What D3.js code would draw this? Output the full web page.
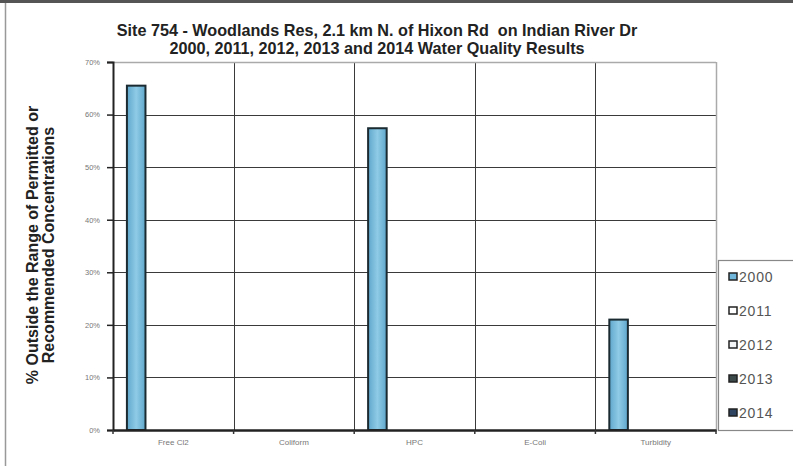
<!DOCTYPE html>
<html><head><meta charset="utf-8">
<script src="https://cdn.jsdelivr.net/npm/d3@7"></script>
<style>body{margin:0;background:#fff}svg{display:block}</style>
</head><body>
<svg id="c" width="793" height="466"></svg>
<script>
const categories = ["Free Cl2", "Coliform", "HPC", "E-Coli", "Turbidity"];
const seriesNames = ["2000", "2011", "2012", "2013", "2014"];
const values2000 = [65.5, 0, 57.4, 0, 21.0];
const values2011 = [0, 0, 0, 0, 0];
const values2012 = [0, 0, 0, 0, 0];
const values2013 = [0, 0, 0, 0, 0];
const values2014 = [0, 0, 0, 0, 0];
const yTicks = [0, 10, 20, 30, 40, 50, 60, 70];
const titleLines = ["Site 754 - Woodlands Res, 2.1 km N. of Hixon Rd  on Indian River Dr",
                    "2000, 2011, 2012, 2013 and 2014 Water Quality Results"];
const yTitleLines = ["% Outside the Range of Permitted or", "Recommended Concentrations"];
const seriesColors = ["#6fb6da", "#ffffff", "#f4f4f4", "#3d4a4a", "#2e4460"];

const series = [values2000, values2011, values2012, values2013, values2014];
const svg = d3.select("#c");
const W = 793, H = 466;
const m = {l: 113, r: 716, t: 62, b: 430};

// frame
svg.append("rect").attr("x", 0).attr("y", 0).attr("width", W).attr("height", 3).attr("fill", "#555");
svg.append("line").attr("x1", 5.5).attr("x2", 5.5).attr("y1", 3).attr("y2", H).attr("stroke", "#999").attr("stroke-width", 1.5);

const defs = svg.append("defs");
const grad = defs.append("linearGradient").attr("id", "bg").attr("x1", "0%").attr("x2", "100%");
grad.append("stop").attr("offset", "0%").attr("stop-color", "#5fa7cc");
grad.append("stop").attr("offset", "50%").attr("stop-color", "#8fcbe6");
grad.append("stop").attr("offset", "100%").attr("stop-color", "#5fa7cc");

const x = d3.scaleBand().domain(categories).range([m.l, m.r]).paddingInner(0).paddingOuter(0);
const xs = d3.scaleBand().domain(seriesNames).range([0, x.bandwidth()]).paddingInner(0).paddingOuter(0.75);
const y = d3.scaleLinear().domain([0, 70]).range([m.b, m.t]);

// gridlines
const g = svg.append("g");
g.selectAll(".hg").data(yTicks.filter(d => d > 0 && d < 70)).join("line")
  .attr("x1", m.l).attr("x2", m.r).attr("y1", d => Math.round(y(d)) + 0.5).attr("y2", d => Math.round(y(d)) + 0.5)
  .attr("stroke", "#3a3a3a").attr("stroke-width", 1);
g.selectAll(".vg").data(categories.slice(1)).join("line")
  .attr("x1", d => Math.round(x(d)) + 0.5).attr("x2", d => Math.round(x(d)) + 0.5).attr("y1", m.t).attr("y2", m.b)
  .attr("stroke", "#3a3a3a").attr("stroke-width", 1);
// plot border top/right
g.append("line").attr("x1", m.l).attr("x2", m.r).attr("y1", m.t + 0.5).attr("y2", m.t + 0.5).attr("stroke", "#aaa").attr("stroke-width", 1.5);
g.append("line").attr("x1", m.r + 0.5).attr("x2", m.r + 0.5).attr("y1", m.t).attr("y2", m.b).attr("stroke", "#aaa").attr("stroke-width", 1.5);

// bars
series.forEach((vals, si) => {
  svg.append("g").selectAll("rect").data(vals.map((v, i) => ({v, c: categories[i]})).filter(d => d.v > 0)).join("rect")
    .attr("x", d => x(d.c) + xs(seriesNames[si]))
    .attr("width", xs.bandwidth())
    .attr("y", d => y(d.v))
    .attr("height", d => y(0) - y(d.v))
    .attr("fill", si === 0 ? "url(#bg)" : seriesColors[si])
    .attr("stroke", "#1a2a30").attr("stroke-width", 2);
});

// y axis
const yAxis = d3.axisLeft(y).tickValues(yTicks).tickFormat(d => d + "%").tickSize(6).tickPadding(7);
const ya = svg.append("g").attr("transform", `translate(${m.l},0)`).call(yAxis);
ya.select(".domain").attr("stroke", "#222").attr("stroke-width", 2);
ya.selectAll(".tick line").attr("stroke", "#222").attr("stroke-width", 1.5).attr("x2", -6);
ya.selectAll(".tick text").attr("font-family", "Liberation Sans, Arial, sans-serif").attr("font-size", 7.5).attr("fill", "#777");

// x axis
const xAxis = d3.axisBottom(x).tickSize(0).tickPadding(9);
const xa = svg.append("g").attr("transform", `translate(0,${m.b})`).call(xAxis);
xa.select(".domain").attr("stroke", "#222").attr("stroke-width", 2.5);
xa.selectAll(".tick text").attr("font-family", "Liberation Sans, Arial, sans-serif").attr("font-size", 8).attr("fill", "#777");
xa.selectAll(".bt").data(categories.concat(["end"])).join("line")
  .attr("x1", (d, i) => m.l + i * x.bandwidth()).attr("x2", (d, i) => m.l + i * x.bandwidth())
  .attr("y1", 0).attr("y2", 4).attr("stroke", "#333").attr("stroke-width", 1.5);

// title
svg.append("g").selectAll("text").data(titleLines).join("text")
  .attr("x", 377).attr("y", (d, i) => 36 + i * 18).attr("text-anchor", "middle")
  .attr("font-family", "Liberation Sans, Arial, sans-serif").attr("font-weight", "bold").attr("font-size", 16.2)
  .style("white-space", "pre")
  .attr("fill", "#222").text(d => d);

// y title
svg.append("g").selectAll("text").data(yTitleLines).join("text")
  .attr("transform", (d, i) => `translate(${38 + i * 16},245) rotate(-90)`).attr("text-anchor", "middle")
  .attr("font-family", "Liberation Sans, Arial, sans-serif").attr("font-weight", "bold").attr("font-size", 16)
  .attr("fill", "#222").text(d => d);

// legend
const lg = svg.append("g");
lg.append("rect").attr("x", 718.5).attr("y", 260.5).attr("width", 80).attr("height", 170).attr("fill", "#fff").attr("stroke", "#888").attr("stroke-width", 1.2);
const li = lg.selectAll(".li").data(seriesNames).join("g").attr("transform", (d, i) => `translate(729,${278 + i * 34})`);
li.append("rect").attr("x", 0).attr("y", -5).attr("width", 8).attr("height", 7)
  .attr("fill", (d, i) => seriesColors[i]).attr("stroke", "#222").attr("stroke-width", 1.5);
li.append("text").attr("x", 10).attr("y", 4).attr("font-family", "Liberation Sans, Arial, sans-serif").attr("font-size", 14)
  .attr("letter-spacing", 0.8).attr("fill", "#555").text(d => d);
</script>
</body></html>
